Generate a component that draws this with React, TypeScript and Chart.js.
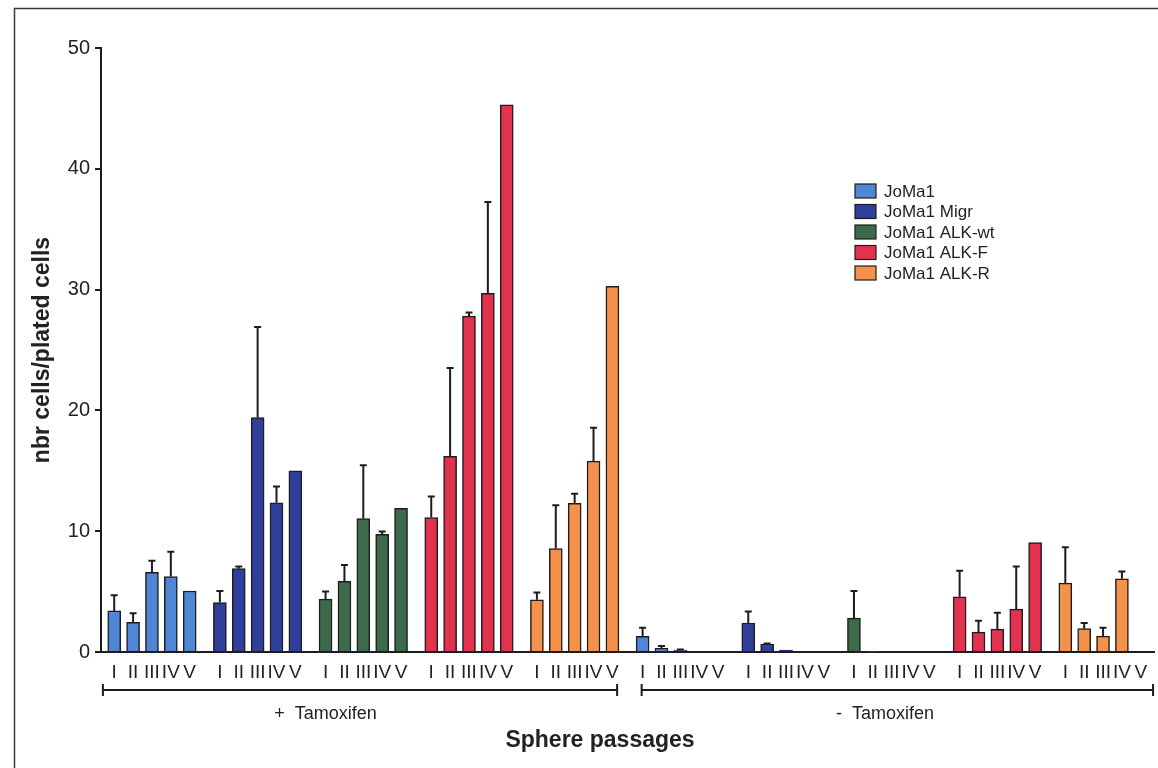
import React, { useEffect, useRef } from "react";
import { Chart, registerables } from "chart.js";

Chart.register(...registerables);

// ---------- data ----------
const seriesNames = ["JoMa1", "JoMa1 Migr", "JoMa1 ALK-wt", "JoMa1 ALK-F", "JoMa1 ALK-R"];
const passages = ["I", "II", "III", "IV", "V"];
const conditionLabels = ["+  Tamoxifen", "-  Tamoxifen"];
const xTitle = "Sphere passages";
const yTitle = "nbr cells/plated cells";
const yTickValues = [0, 10, 20, 30, 40, 50];

// + Tamoxifen
const joma1Plus = [3.4, 2.45, 6.6, 6.25, 5.05];
const joma1PlusErr = [1.3, 0.75, 0.95, 2.05, 0];
const migrPlus = [4.1, 6.9, 19.4, 12.35, 15.0];
const migrPlusErr = [0.95, 0.18, 7.5, 1.35, 0];
const alkWtPlus = [4.38, 5.84, 11.05, 9.75, 11.9];
const alkWtPlusErr = [0.62, 1.36, 4.4, 0.22, 0];
const alkFPlus = [11.13, 16.2, 27.8, 29.7, 45.3];
const alkFPlusErr = [1.74, 7.3, 0.3, 7.55, 0];
const alkRPlus = [4.32, 8.57, 12.31, 15.8, 30.27];
const alkRPlusErr = [0.61, 3.58, 0.79, 2.77, 0];

// - Tamoxifen
const joma1Minus = [1.3, 0.3, 0.15, 0, 0];
const joma1MinusErr = [0.7, 0.2, 0.05, 0, 0];
const migrMinus = [2.4, 0.66, 0.15, 0, 0];
const migrMinusErr = [0.96, 0.05, 0, 0, 0];
const alkWtMinus = [2.8, 0.05, 0, 0, 0];
const alkWtMinusErr = [2.24, 0, 0, 0, 0];
const alkFMinus = [4.57, 1.65, 1.9, 3.55, 9.06];
const alkFMinusErr = [2.15, 0.94, 1.35, 3.53, 0];
const alkRMinus = [5.7, 1.93, 1.32, 6.06, 0];
const alkRMinusErr = [2.98, 0.47, 0.68, 0.61, 0];

const plusValues = [joma1Plus, migrPlus, alkWtPlus, alkFPlus, alkRPlus];
const plusErrors = [joma1PlusErr, migrPlusErr, alkWtPlusErr, alkFPlusErr, alkRPlusErr];
const minusValues = [joma1Minus, migrMinus, alkWtMinus, alkFMinus, alkRMinus];
const minusErrors = [joma1MinusErr, migrMinusErr, alkWtMinusErr, alkFMinusErr, alkRMinusErr];

// ---------- style / layout ----------
const seriesColors = ["#4f86d6", "#2f3f9b", "#3e6a4c", "#e1324e", "#f4914a"];
const FONT = "'Liberation Sans', Arial, sans-serif";
const INK = "#1d1d1d";
const GROUP_STRIDE = 5.6;

const posOf = (half: number, s: number, i: number) => (half * 5 + s) * GROUP_STRIDE + i;

const tickPositions: number[] = [];
for (let g = 0; g < 10; g++) for (let i = 0; i < 5; i++) tickPositions.push(g * GROUP_STRIDE + i);

const datasets = seriesNames.map((name, s) => {
  const data: { x: number; y: number }[] = [];
  const errors: number[] = [];
  [plusValues, minusValues].forEach((vals, half) => {
    vals[s].forEach((v, i) => {
      data.push({ x: posOf(half, s, i), y: v });
      errors.push((half === 0 ? plusErrors : minusErrors)[s][i]);
    });
  });
  return {
    label: name,
    data,
    errors,
    backgroundColor: seriesColors[s],
    borderColor: INK,
    borderWidth: 1.5,
    barThickness: 13,
    grouped: false,
  } as any;
});

const bracketRanges = [
  [-0.6, 26.65],
  [27.95, 55.05],
];
const conditionAnchors = [11.2, 40.85];

const errorBarPlugin = {
  id: "errorBars",
  afterDatasetsDraw(chart: any) {
    const ctx = chart.ctx;
    const ys = chart.scales.y;
    ctx.save();
    ctx.strokeStyle = INK;
    ctx.lineWidth = 2;
    chart.data.datasets.forEach((ds: any, di: number) => {
      const meta = chart.getDatasetMeta(di);
      meta.data.forEach((bar: any, j: number) => {
        const e = ds.errors[j];
        if (!e) return;
        const v = ds.data[j].y;
        const yTop = ys.getPixelForValue(v + e);
        ctx.beginPath();
        ctx.moveTo(bar.x, bar.y);
        ctx.lineTo(bar.x, yTop);
        ctx.moveTo(bar.x - 3.5, yTop);
        ctx.lineTo(bar.x + 3.5, yTop);
        ctx.stroke();
      });
    });
    ctx.restore();
  },
};

const decorPlugin = {
  id: "decor",
  beforeDraw(chart: any) {
    const ctx = chart.ctx;
    ctx.save();
    ctx.fillStyle = "#ffffff";
    ctx.fillRect(0, 0, chart.width, chart.height);
    ctx.strokeStyle = "#3a3a3a";
    ctx.lineWidth = 1.5;
    ctx.beginPath();
    ctx.moveTo(14.5, chart.height + 5);
    ctx.lineTo(14.5, 8.5);
    ctx.lineTo(chart.width + 5, 8.5);
    ctx.stroke();
    ctx.restore();
  },
  afterDraw(chart: any) {
    const ctx = chart.ctx;
    const xs = chart.scales.x;
    const yb = chart.chartArea.bottom + 38;
    ctx.save();
    ctx.strokeStyle = INK;
    ctx.lineWidth = 2;
    bracketRanges.forEach(([a, b], k) => {
      const x1 = xs.getPixelForValue(a);
      const x2 = xs.getPixelForValue(b);
      ctx.beginPath();
      ctx.moveTo(x1, yb);
      ctx.lineTo(x2, yb);
      ctx.moveTo(x1, yb - 6);
      ctx.lineTo(x1, yb + 6);
      ctx.moveTo(x2, yb - 6);
      ctx.lineTo(x2, yb + 6);
      ctx.stroke();
      ctx.fillStyle = "#222";
      ctx.font = `18px ${FONT}`;
      ctx.textAlign = "center";
      ctx.textBaseline = "middle";
      ctx.fillText(conditionLabels[k], xs.getPixelForValue(conditionAnchors[k]), yb + 24);
    });
    // x axis title
    ctx.font = `bold 23px ${FONT}`;
    ctx.textAlign = "center";
    ctx.textBaseline = "middle";
    ctx.fillStyle = "#222";
    ctx.fillText(xTitle, 600, 741);
    // legend
    const lx = 855;
    const ly = 191;
    const step = 20.5;
    ctx.font = `17px ${FONT}`;
    ctx.textAlign = "left";
    ctx.textBaseline = "middle";
    chart.data.datasets.forEach((ds: any, k: number) => {
      const cy = ly + k * step;
      ctx.fillStyle = ds.backgroundColor;
      ctx.fillRect(lx, cy - 7, 21, 14);
      ctx.lineWidth = 1.2;
      ctx.strokeStyle = INK;
      ctx.strokeRect(lx, cy - 7, 21, 14);
      ctx.fillStyle = "#222";
      ctx.fillText(ds.label, lx + 29, cy + 1);
    });
    ctx.restore();
  },
};

export default function App() {
  const ref = useRef<HTMLCanvasElement>(null);
  useEffect(() => {
    document.body.style.margin = "0";
    const chart = new Chart(ref.current as HTMLCanvasElement, {
      type: "bar",
      data: { datasets },
      options: {
        animation: false,
        responsive: false,
        devicePixelRatio: 1,
        layout: { padding: { top: 48, right: 4, bottom: 0, left: 0 } },
        plugins: { legend: { display: false }, tooltip: { enabled: false } },
        scales: {
          x: {
            type: "linear",
            min: -0.7,
            max: 55.1,
            offset: false,
            grid: { display: false, drawTicks: false },
            border: { display: true, color: INK, width: 2 },
            ticks: {
              autoSkip: false,
              maxRotation: 0,
              minRotation: 0,
              padding: 9,
              color: "#222",
              font: { family: FONT, size: 19 },
              callback: (_v: any, i: number) => passages[i % 5],
            },
            afterBuildTicks: (s: any) => {
              s.ticks = tickPositions.map((v) => ({ value: v }));
            },
            afterFit: (s: any) => {
              s.height = 116;
            },
            title: { display: false },
          } as any,
          y: {
            min: 0,
            max: 50,
            afterBuildTicks: (s: any) => {
              s.ticks = yTickValues.map((v) => ({ value: v }));
            },
            ticks: {
              padding: 5,
              color: "#222",
              font: { family: FONT, size: 20 },
            },
            grid: {
              display: true,
              drawOnChartArea: false,
              drawTicks: true,
              tickLength: 6,
              color: INK,
              lineWidth: 2,
            },
            border: { display: true, color: INK, width: 2 },
            afterFit: (s: any) => {
              s.width = 101;
            },
            title: {
              display: true,
              text: yTitle,
              color: "#222",
              font: { family: FONT, size: 23, weight: "bold" },
              padding: { top: 29, bottom: 0 },
            },
          } as any,
        },
      } as any,
      plugins: [decorPlugin, errorBarPlugin],
    });
    return () => chart.destroy();
  }, []);
  return (
    <div style={{ position: "absolute", left: 0, top: 0, width: 1158, height: 768, background: "#fff" }}>
      <canvas ref={ref} width={1158} height={768} style={{ display: "block" }} />
    </div>
  );
}
